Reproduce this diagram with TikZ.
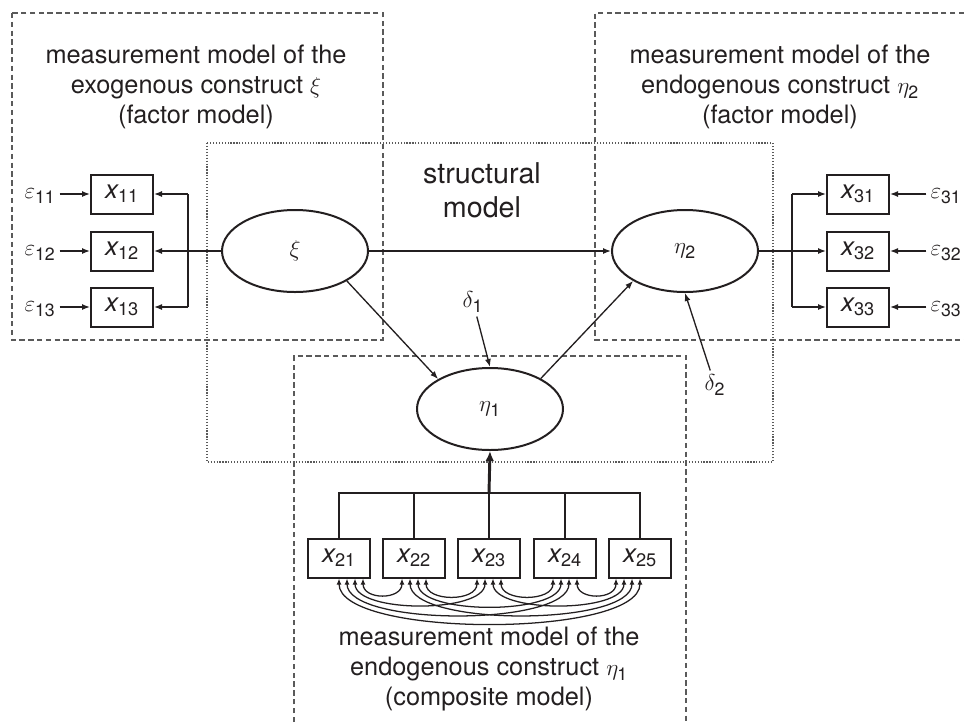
\documentclass[tikz,border=0pt]{standalone}
\usepackage{amsmath}
\usepackage{fontspec}
\setmainfont{TeX Gyre Heros}
\usetikzlibrary{arrows.meta,shapes.geometric}

\definecolor{ink}{HTML}{231F20}
\definecolor{framegray}{HTML}{5A5A5A}

\newcommand{\ivar}[2]{$\textit{#1}_{\text{#2}}$}

\begin{document}
\begin{tikzpicture}[x=0.75pt,y=-0.75pt,
  every node/.style={text=ink, font=\fontsize{19}{22.5}\selectfont},
  indicator/.style={draw=ink, line width=1.5pt, minimum width=46.5pt,
    minimum height=29.25pt, inner sep=0pt, font=\fontsize{19.5}{22.5}\selectfont},
  latent/.style={ellipse, draw=ink, line width=1.5pt, minimum width=109.5pt,
    minimum height=61.5pt, inner sep=0pt},
  errlabel/.style={inner sep=3pt},
  caption/.style={align=center, inner sep=0pt},
  regarrow/.style={draw=ink, line width=1pt, -{Latex[length=6pt,width=4.5pt]}},
  linkline/.style={draw=ink, line width=1pt},
  wtarrow/.style={draw=ink, line width=2.2pt, -{Latex[length=7.5pt,width=6.5pt]}},
  corrarrow/.style={draw=ink, line width=0.95pt,
    {Latex[length=4.5pt,width=3.6pt]}-{Latex[length=4.5pt,width=3.6pt]}},
  mframe/.style={draw=framegray, line width=0.9pt, dash pattern=on 4pt off 2.6pt},
  sframe/.style={draw=framegray, line width=1pt, dash pattern=on 0.9pt off 1.3pt},
]
\useasboundingbox (0,0) rectangle (964,722);

% model frames
\draw[mframe] (12,13) rectangle (383,340);
\draw[mframe] (964,13) -- (595,13) -- (595,340) -- (964,340);
\draw[mframe] (294,722) -- (294,356) -- (686,356) -- (686,722);
\draw[sframe] (207,143) rectangle (773,462);

% captions
\node[caption] (capxi) at (196,87) {measurement model of the\\exogenous construct $\xi$\\(factor model)};
\node[caption] (capetatwo) at (780,87) {measurement model of the\\endogenous construct $\eta_{\text{2}}$\\(factor model)};
\node[caption, font=\fontsize{21.5}{25.5}\selectfont] (capstruct) at (482,190) {structural\\model};
\node[caption] (capetaone) at (489,669) {measurement model of the\\endogenous construct $\eta_{\text{1}}$\\(composite model)};

% latent variables
\node[latent] (xi) at (295,251) {$\xi$};
\node[latent] (eta1) at (490,409) {$\eta_{\text{1}}$};
\node[latent] (eta2) at (685,251) {$\eta_{\text{2}}$};

% indicators of xi
\node[indicator] (x11) at (122,194) {\ivar{x}{11}};
\node[indicator] (x12) at (122,251) {\ivar{x}{12}};
\node[indicator] (x13) at (122,307) {\ivar{x}{13}};
\node[errlabel] (e11) at (40,196) {$\varepsilon_{\text{11}}$};
\node[errlabel] (e12) at (40,253) {$\varepsilon_{\text{12}}$};
\node[errlabel] (e13) at (40,309) {$\varepsilon_{\text{13}}$};

% indicators of eta2
\node[indicator] (x31) at (858,194) {\ivar{x}{31}};
\node[indicator] (x32) at (858,251) {\ivar{x}{32}};
\node[indicator] (x33) at (858,307) {\ivar{x}{33}};
\node[errlabel] (e31) at (946,196) {$\varepsilon_{\text{31}}$};
\node[errlabel] (e32) at (946,253) {$\varepsilon_{\text{32}}$};
\node[errlabel] (e33) at (946,309) {$\varepsilon_{\text{33}}$};

% indicators of eta1
\node[indicator] (x21) at (339,558) {\ivar{x}{21}};
\node[indicator] (x22) at (414,558) {\ivar{x}{22}};
\node[indicator] (x23) at (489,558) {\ivar{x}{23}};
\node[indicator] (x24) at (565,558) {\ivar{x}{24}};
\node[indicator] (x25) at (640,558) {\ivar{x}{25}};

% disturbances
\node[errlabel] (d1) at (473,302) {$\delta_{\text{1}}$};
\node[errlabel] (d2) at (715,385) {$\delta_{\text{2}}$};

% structural paths
\draw[regarrow] (xi.east) -- (eta2.west);
\draw[regarrow] (xi.-30) -- (eta1.150);
\draw[regarrow] (eta1.31) -- (eta2.-150);
\draw[regarrow] (d1) -- (eta1.north);
\draw[regarrow] (d2) -- (eta2.south);

% loadings of xi
\coordinate (lbar1) at (188,194);
\coordinate (lbar3) at (188,307);
\draw[regarrow] (xi.west) -- (x12.east);
\draw[linkline] (lbar1) -- (lbar3);
\draw[regarrow] (lbar1) -- (x11.east);
\draw[regarrow] (lbar3) -- (x13.east);
\foreach \k in {1,2,3} {
  \draw[regarrow] (e1\k.east |- x1\k.west) -- (x1\k.west);
}

% loadings of eta2
\coordinate (rbar1) at (792,194);
\coordinate (rbar3) at (792,307);
\draw[regarrow] (eta2.east) -- (x32.west);
\draw[linkline] (rbar1) -- (rbar3);
\draw[regarrow] (rbar1) -- (x31.west);
\draw[regarrow] (rbar3) -- (x33.west);
\foreach \k in {1,2,3} {
  \draw[regarrow] (e3\k.west |- x3\k.east) -- (x3\k.east);
}

% composite weights of eta1
\coordinate (busy) at (0,493);
\draw[linkline] (x21.north) -- (x21.north |- busy) -- (x25.north |- busy) -- (x25.north);
\foreach \k in {2,3,4} {
  \draw[linkline] (x2\k.north) -- (x2\k.north |- busy);
}
\draw[wtarrow] (x23.north |- busy) -- (eta1.south);

% correlations among the composite indicators
\foreach \i in {1,2,3,4} {
  \pgfmathtruncatemacro{\ip}{\i+1}
  \foreach \j in {\ip,...,5} {
    \pgfmathtruncatemacro{\si}{(\i-1)+(5-\j)}
    \pgfmathtruncatemacro{\sj}{\j-1-\i}
    \pgfmathsetmacro{\bi}{\i==1 ? 0 : (\i==5 ? -24 : -12)}
    \pgfmathsetmacro{\bj}{\j==1 ? 0 : (\j==5 ? -24 : -12)}
    \pgfmathsetmacro{\oi}{(\bi+8*\si)*0.75}
    \pgfmathsetmacro{\oj}{(\bj+8*\sj)*0.75}
    \pgfmathsetmacro{\dist}{75.25*(\j-\i)+(\bj+8*\sj)-(\bi+8*\si)}
    \pgfmathsetmacro{\dep}{(16+0.145*\dist)*0.75}
    \draw[corrarrow] ([xshift=\oi pt]x2\i.south) .. controls +(0pt,-\dep pt) and +(0pt,-\dep pt) .. ([xshift=\oj pt]x2\j.south);
  }
}
\end{tikzpicture}
\end{document}
